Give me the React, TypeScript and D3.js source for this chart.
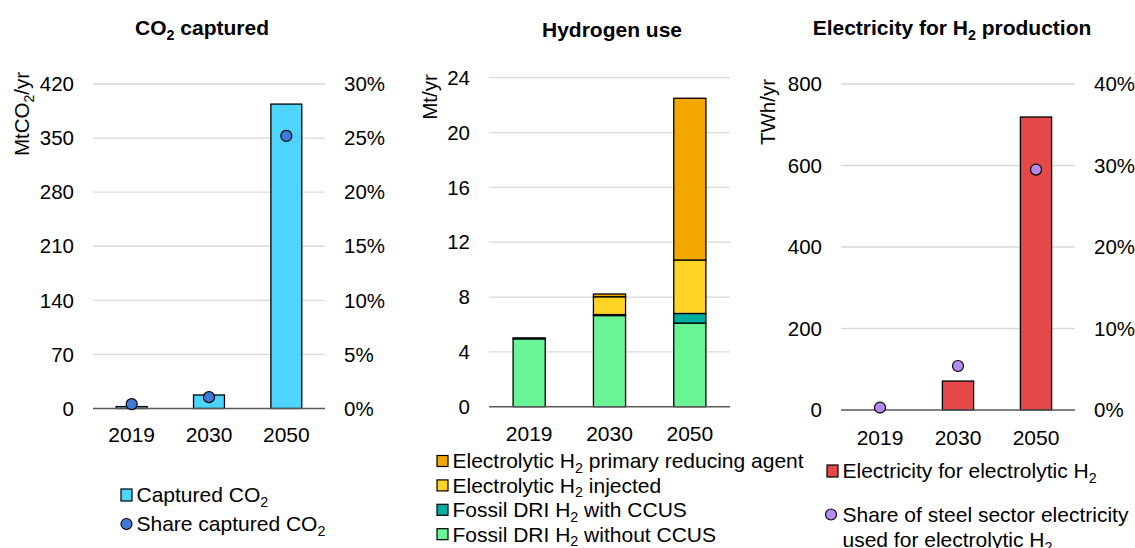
import React from "react";
import * as d3 from "d3";

const categories = ["2019", "2030", "2050"];

// Panel 1: CO2 captured
const co2Captured = [2.5, 17.5, 394];
const co2Share = [0.4, 1.05, 25.2];
const co2LeftTicks = [0, 70, 140, 210, 280, 350, 420];
const co2RightTicks = [0, 5, 10, 15, 20, 25, 30];

// Panel 2: Hydrogen use (stack order bottom -> top)
const h2WithoutCCUS = [4.95, 6.65, 6.1];
const h2WithCCUS = [0.07, 0.07, 0.7];
const h2Injected = [0, 1.3, 3.9];
const h2Primary = [0, 0.2, 11.8];
const h2Ticks = [0, 4, 8, 12, 16, 20, 24];

// Panel 3: Electricity for H2 production
const elecH2 = [0, 71, 719];
const elecShare = [0.3, 5.4, 29.5];
const elecLeftTicks = [0, 200, 400, 600, 800];
const elecRightTicks = [0, 10, 20, 30, 40];

const FONT = "'Liberation Sans', Arial, sans-serif";
const GRID = "#d9d9d9";
const AXIS = "#595959";

const C_CO2 = "#4dd4ff";
const C_CO2DOT = "#3e7bd8";
const C_PRIMARY = "#f2a800";
const C_INJ = "#fdd426";
const C_CCUS = "#00ae9f";
const C_NOCCUS = "#69f595";
const C_ELEC = "#e54848";
const C_ELECDOT = "#b48af0";

// render text where "₂" becomes subscript
function Rich({ text, size }: { text: string; size: number }) {
  const parts = text.split("₂");
  const shift = size * 0.22;
  const out: React.ReactNode[] = [];
  parts.forEach((p, i) => {
    if (p.length > 0) {
      out.push(
        <tspan key={"t" + i} dy={i > 0 ? -shift : undefined}>
          {p}
        </tspan>
      );
    }
    if (i < parts.length - 1) {
      out.push(
        <tspan key={"s" + i} fontSize={size * 0.68} dy={shift}>
          2
        </tspan>
      );
    }
  });
  return <>{out}</>;
}

type PanelCfg = {
  x0: number;
  x1: number;
  yTop: number;
  yBot: number;
  max: number;
};

function makeScales(p: PanelCfg) {
  const x = d3.scaleBand<string>().domain(categories).range([p.x0, p.x1]).paddingInner(0.6).paddingOuter(0.3);
  const y = d3.scaleLinear().domain([0, p.max]).range([p.yBot, p.yTop]);
  return { x, y };
}

const TICK = 20.5;
const XLAB = 21;
const LEG = 21;
const TITLE = 21;

function Grid({ p, y, ticks }: { p: PanelCfg; y: d3.ScaleLinear<number, number>; ticks: number[] }) {
  return (
    <g>
      {ticks.filter((t) => t !== 0).map((t) => (
        <line key={t} x1={p.x0} x2={p.x1} y1={y(t)} y2={y(t)} stroke={GRID} strokeWidth={1.3} />
      ))}
    </g>
  );
}

function LeftTicks({ p, y, ticks }: { p: PanelCfg; y: d3.ScaleLinear<number, number>; ticks: number[] }) {
  return (
    <g fontSize={TICK} fill="#000" textAnchor="end">
      {ticks.map((t) => (
        <text key={t} x={p.x0 - 19} y={y(t)} dy="0.35em">
          {t}
        </text>
      ))}
    </g>
  );
}

function RightTicks({ p, y, ticks }: { p: PanelCfg; y: d3.ScaleLinear<number, number>; ticks: number[] }) {
  return (
    <g fontSize={TICK} fill="#000" textAnchor="start">
      {ticks.map((t) => (
        <text key={t} x={p.x1 + 19} y={y(t)} dy="0.35em">
          {t + "%"}
        </text>
      ))}
    </g>
  );
}

function XLabels({ x, yPos }: { x: d3.ScaleBand<string>; yPos: number }) {
  return (
    <g fontSize={XLAB} textAnchor="middle">
      {categories.map((c) => (
        <text key={c} x={(x(c) as number) + x.bandwidth() / 2} y={yPos} dy="0.35em">
          {c}
        </text>
      ))}
    </g>
  );
}

function Baseline({ p }: { p: PanelCfg }) {
  return <line x1={p.x0} x2={p.x1} y1={p.yBot} y2={p.yBot} stroke={AXIS} strokeWidth={1.5} />;
}

export default function App() {
  // Panel 1
  const p1: PanelCfg = { x0: 93, x1: 325, yTop: 84, yBot: 408.5, max: 420 };
  const s1 = makeScales(p1);
  const y1r = d3.scaleLinear().domain([0, 30]).range([p1.yBot, p1.yTop]);

  // Panel 2
  const p2: PanelCfg = { x0: 489, x1: 730, yTop: 77.7, yBot: 406.7, max: 24 };
  const s2 = makeScales(p2);
  const h2Keys = ["without", "with", "inj", "prim"];
  const h2Colors: Record<string, string> = { without: C_NOCCUS, with: C_CCUS, inj: C_INJ, prim: C_PRIMARY };
  const h2Rows = categories.map((c, i) => ({
    cat: c,
    without: h2WithoutCCUS[i],
    with: h2WithCCUS[i],
    inj: h2Injected[i],
    prim: h2Primary[i],
  }));
  const stack = d3.stack<any>().keys(h2Keys)(h2Rows);

  // Panel 3
  const p3: PanelCfg = { x0: 841, x1: 1075, yTop: 84, yBot: 410, max: 800 };
  const s3 = makeScales(p3);
  const y3r = d3.scaleLinear().domain([0, 40]).range([p3.yBot, p3.yTop]);

  const h2Legend = [
    { label: "Electrolytic H₂ primary reducing agent", color: C_PRIMARY },
    { label: "Electrolytic H₂ injected", color: C_INJ },
    { label: "Fossil DRI H₂ with CCUS", color: C_CCUS },
    { label: "Fossil DRI H₂ without CCUS", color: C_NOCCUS },
  ];

  return (
    <svg
      width={1135}
      height={548}
      style={{ position: "absolute", left: 0, top: 0, background: "#fff" }}
      fontFamily={FONT}
    >
      <rect width={1135} height={548} fill="#fff" />

      {/* ---------- Panel 1 ---------- */}
      <text x={202} y={28} textAnchor="middle" fontSize={TITLE} fontWeight="bold" dy="0.35em">
        <Rich text="CO₂ captured" size={TITLE} />
      </text>
      <text transform={`translate(22,114) rotate(-90)`} textAnchor="middle" fontSize={TICK} dy="0.35em">
        <Rich text="MtCO₂/yr" size={TICK} />
      </text>
      <Grid p={p1} y={s1.y} ticks={co2LeftTicks} />
      {categories.map((c, i) => (
        <rect
          key={c}
          x={s1.x(c)}
          y={s1.y(co2Captured[i])}
          width={s1.x.bandwidth()}
          height={p1.yBot - s1.y(co2Captured[i])}
          fill={C_CO2}
          stroke="#000"
          strokeWidth={1.3}
        />
      ))}
      <Baseline p={p1} />
      {categories.map((c, i) => (
        <circle
          key={c}
          cx={(s1.x(c) as number) + s1.x.bandwidth() / 2}
          cy={y1r(co2Share[i])}
          r={5.5}
          fill={C_CO2DOT}
          stroke="#000"
          strokeWidth={1.2}
        />
      ))}
      <LeftTicks p={p1} y={s1.y} ticks={co2LeftTicks} />
      <RightTicks p={p1} y={y1r} ticks={co2RightTicks} />
      <XLabels x={s1.x} yPos={435} />
      {/* legend 1 */}
      <rect x={121} y={489} width={11} height={12} fill={C_CO2} stroke="#000" strokeWidth={1.2} />
      <text x={136.5} y={495} fontSize={LEG} dy="0.35em">
        <Rich text="Captured CO₂" size={LEG} />
      </text>
      <circle cx={126.5} cy={524} r={5.5} fill={C_CO2DOT} stroke="#000" strokeWidth={1.2} />
      <text x={136.5} y={524} fontSize={LEG} dy="0.35em">
        <Rich text="Share captured CO₂" size={LEG} />
      </text>

      {/* ---------- Panel 2 ---------- */}
      <text x={612} y={30} textAnchor="middle" fontSize={TITLE} fontWeight="bold" dy="0.35em">
        Hydrogen use
      </text>
      <text transform={`translate(430,97) rotate(-90)`} textAnchor="middle" fontSize={TICK} dy="0.35em">
        Mt/yr
      </text>
      <Grid p={p2} y={s2.y} ticks={h2Ticks} />
      {stack.map((layer) => (
        <g key={layer.key} fill={h2Colors[layer.key]}>
          {layer.map((d, i) =>
            d[1] - d[0] > 0 ? (
              <rect
                key={i}
                x={s2.x(categories[i])}
                y={s2.y(d[1])}
                width={s2.x.bandwidth()}
                height={s2.y(d[0]) - s2.y(d[1])}
                stroke="#000"
                strokeWidth={1.3}
              />
            ) : null
          )}
        </g>
      ))}
      <Baseline p={p2} />
      <LeftTicks p={p2} y={s2.y} ticks={h2Ticks} />
      <XLabels x={s2.x} yPos={433.5} />
      {h2Legend.map((l, i) => (
        <g key={l.label}>
          <rect x={437} y={455.5 + i * 24.4} width={11} height={11} fill={l.color} stroke="#000" strokeWidth={1.2} />
          <text x={452.5} y={461 + i * 24.4} fontSize={LEG} dy="0.35em">
            <Rich text={l.label} size={LEG} />
          </text>
        </g>
      ))}

      {/* ---------- Panel 3 ---------- */}
      <text x={952} y={28} textAnchor="middle" fontSize={TITLE} fontWeight="bold" dy="0.35em">
        <Rich text="Electricity for H₂ production" size={TITLE} />
      </text>
      <text transform={`translate(768,112) rotate(-90)`} textAnchor="middle" fontSize={TICK} dy="0.35em">
        TWh/yr
      </text>
      <Grid p={p3} y={s3.y} ticks={elecLeftTicks} />
      {categories.map((c, i) =>
        elecH2[i] > 0 ? (
          <rect
            key={c}
            x={s3.x(c)}
            y={s3.y(elecH2[i])}
            width={s3.x.bandwidth()}
            height={p3.yBot - s3.y(elecH2[i])}
            fill={C_ELEC}
            stroke="#000"
            strokeWidth={1.3}
          />
        ) : null
      )}
      <Baseline p={p3} />
      {categories.map((c, i) => (
        <circle
          key={c}
          cx={(s3.x(c) as number) + s3.x.bandwidth() / 2}
          cy={y3r(elecShare[i])}
          r={5.5}
          fill={C_ELECDOT}
          stroke="#000"
          strokeWidth={1.2}
        />
      ))}
      <LeftTicks p={p3} y={s3.y} ticks={elecLeftTicks} />
      <RightTicks p={p3} y={y3r} ticks={elecRightTicks} />
      <XLabels x={s3.x} yPos={437.5} />
      {/* legend 3 */}
      <rect x={827} y={465} width={11} height={12} fill={C_ELEC} stroke="#000" strokeWidth={1.2} />
      <text x={842.5} y={471} fontSize={LEG} dy="0.35em">
        <Rich text="Electricity for electrolytic H₂" size={LEG} />
      </text>
      <circle cx={831} cy={514.5} r={5.5} fill={C_ELECDOT} stroke="#000" strokeWidth={1.2} />
      <text x={842.5} y={514.5} fontSize={LEG} dy="0.35em">
        Share of steel sector electricity
      </text>
      <text x={842.5} y={540} fontSize={LEG} dy="0.35em">
        <Rich text="used for electrolytic H₂" size={LEG} />
      </text>
    </svg>
  );
}
